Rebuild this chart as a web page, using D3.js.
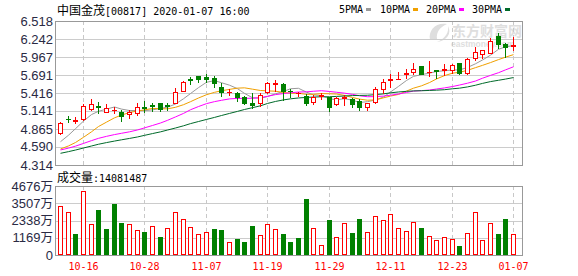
<!DOCTYPE html>
<html>
<head>
<meta charset="utf-8">
<script src="https://cdn.jsdelivr.net/npm/d3@7"></script>
<style>
  body { margin: 0; background: #fff; }
</style>
</head>
<body>
<script>
// Données (cours en HKD, volume en 万)
var dates = [
  "10-11", "10-14", "10-15", "10-16", "10-17", "10-18", "10-21", "10-22", "10-23", "10-24",
  "10-25", "10-28", "10-29", "10-30", "10-31", "11-01", "11-04", "11-05", "11-06", "11-07",
  "11-08", "11-11", "11-12", "11-13", "11-14", "11-15", "11-18", "11-19", "11-20", "11-21",
  "11-22", "11-25", "11-26", "11-27", "11-28", "11-29", "12-02", "12-03", "12-04", "12-05",
  "12-06", "12-09", "12-10", "12-11", "12-12", "12-13", "12-16", "12-17", "12-18", "12-19",
  "12-20", "12-23", "12-24", "12-27", "12-30", "12-31", "01-02", "01-03", "01-06", "01-07"
];
var open = [
  4.808, 5.025, 4.99, 5.013, 5.166, 5.22, 5.125, 5.15, 5.13, 5.095,
  5.105, 5.20, 5.23, 5.258, 5.23, 5.268, 5.451, 5.63, 5.676, 5.656,
  5.65, 5.512, 5.425, 5.411, 5.359, 5.268, 5.268, 5.431, 5.56, 5.554,
  5.45, 5.41, 5.375, 5.278, 5.375, 5.35, 5.248, 5.34, 5.32, 5.298,
  5.206, 5.283, 5.473, 5.62, 5.625, 5.71, 5.737, 5.829, 5.735, 5.77,
  5.77, 5.768, 5.87, 5.717, 5.956, 6.018, 6.033, 6.281, 6.166, 6.14
];
var high = [
  4.967, 5.064, 5.044, 5.24, 5.324, 5.283, 5.248, 5.197, 5.156, 5.156,
  5.268, 5.298, 5.268, 5.27, 5.258, 5.488, 5.604, 5.665, 5.68, 5.707,
  5.676, 5.564, 5.473, 5.436, 5.37, 5.411, 5.421, 5.589, 5.615, 5.564,
  5.473, 5.436, 5.40, 5.385, 5.411, 5.35, 5.35, 5.385, 5.335, 5.32,
  5.27, 5.512, 5.626, 5.707, 5.742, 5.779, 5.88, 5.83, 5.906, 5.77,
  5.865, 5.865, 5.88, 5.956, 6.12, 6.07, 6.262, 6.33, 6.177, 6.278
];
var low = [
  4.788, 4.967, 4.957, 5.00, 5.156, 5.114, 5.12, 5.105, 4.992, 5.03,
  5.079, 5.13, 5.14, 5.14, 5.156, 5.258, 5.45, 5.549, 5.58, 5.589,
  5.512, 5.375, 5.393, 5.298, 5.248, 5.182, 5.217, 5.411, 5.451, 5.309,
  5.35, 5.37, 5.232, 5.243, 5.32, 5.145, 5.232, 5.232, 5.197, 5.156,
  5.156, 5.268, 5.411, 5.512, 5.625, 5.65, 5.711, 5.70, 5.676, 5.65,
  5.691, 5.717, 5.70, 5.711, 5.916, 5.956, 6.03, 6.10, 5.972, 6.074
];
var close = [
  4.952, 5.018, 5.00, 5.22, 5.24, 5.20, 5.19, 5.16, 5.059, 5.13,
  5.197, 5.185, 5.22, 5.171, 5.222, 5.436, 5.589, 5.62, 5.625, 5.63,
  5.564, 5.427, 5.432, 5.359, 5.268, 5.232, 5.385, 5.564, 5.57, 5.447,
  5.44, 5.42, 5.268, 5.359, 5.385, 5.206, 5.344, 5.35, 5.248, 5.206,
  5.268, 5.473, 5.58, 5.63, 5.635, 5.72, 5.788, 5.711, 5.745, 5.76,
  5.78, 5.845, 5.717, 5.932, 6.043, 6.07, 6.212, 6.169, 6.115, 6.15
];
var volume = [
  3320, 2914, 1423, 4314, 2100, 3050, 1762, 3479, 2191, 2100,
  1694, 1581, 1965, 1220, 1830, 2914, 2440, 1897, 1400, 1558,
  1762, 1694, 881, 1084, 881, 1965, 1355, 2100, 1762, 1423,
  881, 1152, 3795, 1830, 655, 2372, 1197, 2169, 1491, 2440,
  1558, 2643, 2372, 2778, 1830, 1626, 2236, 1830, 1288, 1016,
  1197, 1084, 610, 1491, 2914, 1016, 2169, 1423, 2440, 1408
];
// clôtures avant le 10-11 (hors image, estimées d'après le départ des moyennes)
var priorClose = [
  4.25, 4.27, 4.29, 4.31, 4.40, 4.43, 4.46, 4.48, 4.50, 4.52,
  4.45, 4.40, 4.38, 4.39, 4.50, 4.58, 4.62, 4.66, 4.68, 4.63,
  4.55, 4.48, 4.42, 4.40, 4.39, 4.52, 4.50, 4.64, 4.74
];
var priceTicks = [6.518, 6.242, 5.967, 5.691, 5.416, 5.141, 4.865, 4.590, 4.314];
var volTicks = [0, 1169, 2338, 3507, 4676];
var dateTicks = ["10-16", "10-28", "11-07", "11-19", "11-29", "12-11", "12-23", "01-07"];
var maNames = ["5PMA", "10PMA", "20PMA", "30PMA"];
var maDays = [5, 10, 20, 30];
var maColors = ["#9a9a9a", "#f0a000", "#ff00ff", "#006a2a"];

var RED = "#ff0000", GREEN = "#008000";
var CJK = "'Noto Sans CJK SC', sans-serif";
var MONO = "'DejaVu Sans Mono', monospace";
var NUM = "'Liberation Sans', Arial, sans-serif";

var W = 578, H = 276;
var left = 55, right = 522;
var pTop = 21, pBot = 165, vTop = 186, vBot = 255;

var svg = d3.select("body").append("svg")
  .attr("width", W).attr("height", H)
  .style("display", "block");

// échelles
var x = d3.scaleBand().domain(dates).range([56, 517]);
var bw = x.bandwidth();
function cx(d) { return Math.round(x(d) + bw / 2); }
var y = d3.scaleLinear().domain([4.314, 6.518]).range([pBot, pTop]);
var yv = d3.scaleLinear().domain([0, 4676]).range([vBot, vTop]);

// titre
var t = svg.append("text").attr("x", 57).attr("y", 15).attr("fill", "#000");
t.append("tspan").style("font-family", CJK).style("font-size", "12px").text("中国金茂");
t.append("tspan").style("font-family", MONO).style("font-size", "10px").text("[00817] 2020-01-07 16:00");

// légende
var legX = [339, 380, 426, 472];
maNames.forEach(function (n, k) {
  svg.append("text").attr("x", legX[k]).attr("y", 13)
    .style("font-family", MONO).style("font-size", "10px").attr("fill", "#000").text(n);
  svg.append("rect").attr("x", legX[k] + n.length * 6 + 3).attr("y", 8)
    .attr("width", 5).attr("height", 3).attr("fill", maColors[k]);
});

// filigrane
var wm = svg.append("g").attr("fill", "#dedede");
wm.append("path")
  .attr("d", "M430,40 C428,30 436,22 447,24 C440,27 436,32 437,39 Z M437,42 C446,38 449,32 448,26 C452,33 447,41 437,42 Z");
wm.append("text").attr("x", 452).attr("y", 36)
  .style("font-family", CJK).style("font-size", "14px").style("font-weight", "bold").text("东方财富网");
wm.append("text").attr("x", 451).attr("y", 47)
  .style("font-family", NUM).style("font-size", "8.5px").style("font-weight", "bold").text("eastmoney.com");

// grilles et cadres
function panel(y0, y1, ticks, sc) {
  svg.append("g").selectAll("line").data(ticks).join("line")
    .attr("x1", left).attr("x2", right)
    .attr("y1", function (d) { return Math.round(sc(d)) + 0.5; })
    .attr("y2", function (d) { return Math.round(sc(d)) + 0.5; })
    .attr("stroke", "#cccccc");
  svg.append("g").selectAll("line").data(dateTicks).join("line")
    .attr("x1", function (d) { return cx(d) + 0.5; })
    .attr("x2", function (d) { return cx(d) + 0.5; })
    .attr("y1", y0).attr("y2", y1)
    .attr("stroke", "#c8c8c8").attr("stroke-dasharray", "4,3");
  svg.append("rect").attr("x", left + 0.5).attr("y", y0 + 0.5)
    .attr("width", right - left).attr("height", y1 - y0)
    .attr("fill", "none").attr("stroke", "#999999");
}
panel(pTop, pBot, priceTicks, y);
panel(vTop, vBot, volTicks, yv);

// libellés de l'axe des cours
svg.append("g").selectAll("text").data(priceTicks).join("text")
  .attr("x", 53).attr("y", function (d) { return y(d) + 4.5; })
  .attr("text-anchor", "end").attr("fill", "#2a2a44")
  .style("font-family", NUM).style("font-size", "13px")
  .text(function (d) { return d.toFixed(3); });

// libellés du volume
svg.append("g").selectAll("text").data(volTicks).join("text")
  .attr("x", 53).attr("y", function (d) { return yv(d) + 4.5; })
  .attr("text-anchor", "end").attr("fill", "#2a2a44")
  .style("font-family", NUM).style("font-size", "13px")
  .each(function (d) {
    var s = d3.select(this);
    s.append("tspan").text(d);
    if (d > 0) s.append("tspan").style("font-family", CJK).style("font-size", "12.5px").text("万");
  });

// titre du volume
var vt = svg.append("text").attr("x", 57).attr("y", 182).attr("fill", "#000");
vt.append("tspan").style("font-family", CJK).style("font-size", "12px").text("成交量");
vt.append("tspan").style("font-family", MONO).style("font-size", "10px").text(":14081487");

// dates
svg.append("g").selectAll("text").data(dateTicks).join("text")
  .attr("x", function (d) { return cx(d) + 0.5; }).attr("y", 270)
  .attr("text-anchor", "middle").attr("fill", RED)
  .style("font-family", MONO).style("font-size", "10px")
  .text(function (d) { return d; });

// moyennes mobiles
var allClose = priorClose.concat(close);
var np = priorClose.length;
maDays.forEach(function (n, k) {
  var ma = close.map(function (c, i) {
    return d3.mean(allClose.slice(np + i - n + 1, np + i + 1));
  });
  var line = d3.line()
    .x(function (d, i) { return cx(dates[i]) + 0.5; })
    .y(function (d) { return y(d); });
  svg.append("path").datum(ma)
    .attr("d", line).attr("fill", "none")
    .attr("stroke", maColors[k]).attr("stroke-width", 1);
});

// chandeliers
var candles = svg.append("g");
dates.forEach(function (d, i) {
  var up = close[i] >= open[i];
  var col = up ? RED : GREEN;
  var c = cx(d);
  var top = Math.round(y(Math.max(open[i], close[i])));
  var bot = Math.round(y(Math.min(open[i], close[i])));
  var hi = Math.round(y(high[i])), lo = Math.round(y(low[i]));
  if (bot - top < 1) {
    candles.append("line").attr("x1", c + 0.5).attr("x2", c + 0.5)
      .attr("y1", hi).attr("y2", lo + 1).attr("stroke", col);
    candles.append("line").attr("x1", c - 2).attr("x2", c + 3)
      .attr("y1", top + 0.5).attr("y2", top + 0.5).attr("stroke", col);
    return;
  }
  candles.append("line").attr("x1", c + 0.5).attr("x2", c + 0.5)
    .attr("y1", hi).attr("y2", top).attr("stroke", col);
  candles.append("line").attr("x1", c + 0.5).attr("x2", c + 0.5)
    .attr("y1", bot).attr("y2", lo + 1).attr("stroke", col);
  candles.append("rect")
    .attr("x", c - 2 + 0.5).attr("y", top + 0.5)
    .attr("width", 4).attr("height", bot - top)
    .attr("fill", up ? "#fff" : GREEN).attr("stroke", col);
});

// barres de volume (couleur selon la clôture de la veille)
svg.append("g").selectAll("rect").data(volume).join("rect")
  .attr("x", function (v, i) { return cx(dates[i]) - 2 + 0.5; })
  .attr("y", function (v) { return Math.round(yv(v)) + 0.5; })
  .attr("width", 4)
  .attr("height", function (v) { return vBot - 1 - Math.round(yv(v)); })
  .each(function (v, i) {
    var up = close[i] >= allClose[np + i - 1];
    d3.select(this).attr("fill", up ? "#fff" : GREEN).attr("stroke", up ? RED : GREEN);
  });
</script>
</body>
</html>
